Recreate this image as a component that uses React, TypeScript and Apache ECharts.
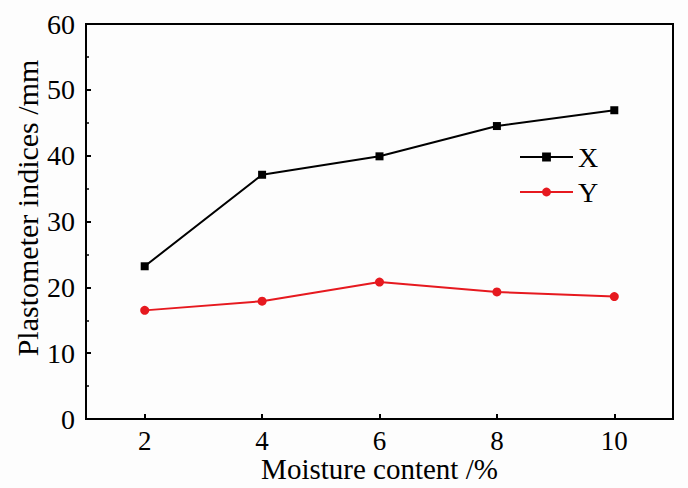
import React, { useEffect, useRef } from "react";
import * as echarts from "echarts";

const moisture = [2, 4, 6, 8, 10];
const seriesX = [23.2, 37.1, 39.9, 44.5, 46.9];
const seriesY = [16.5, 17.9, 20.8, 19.3, 18.6];
const xTicks = [2, 4, 6, 8, 10];

const FONT = "'Liberation Serif', 'Times New Roman', serif";

export default function App() {
  const ref = useRef<HTMLDivElement>(null);
  useEffect(() => {
    if (!ref.current) return;
    const chart = echarts.init(ref.current, null, { renderer: "svg" });
    chart.setOption({
      animation: false,
      backgroundColor: "#fdfdfd",
      grid: {
        left: 86,
        right: 15,
        top: 24,
        bottom: 69,
        outerBoundsMode: "none",
        containLabel: false,
        show: true,
        borderColor: "#000",
        borderWidth: 2,
        backgroundColor: "transparent",
      },
      legend: {
        orient: "vertical",
        left: 519,
        top: 143,
        padding: 0,
        itemWidth: 53,
        itemHeight: 11,
        itemGap: 7,
        textStyle: { fontFamily: FONT, fontSize: 28, color: "#000" },
        data: ["X", "Y"],
      },
      xAxis: {
        type: "value",
        min: 1,
        max: 11,
        name: "Moisture content /%",
        nameLocation: "middle",
        nameGap: 39,
        nameMoveOverlap: false,
        nameTextStyle: {
          fontFamily: FONT,
          fontSize: 29,
          lineHeight: 22,
          color: "#000",
        },
        axisLine: { show: true, lineStyle: { color: "#000", width: 2 } },
        axisTick: {
          show: true,
          inside: true,
          length: 5,
          lineStyle: { color: "#000", width: 2 },
          customValues: xTicks,
        },
        axisLabel: {
          fontFamily: FONT,
          fontSize: 27,
          lineHeight: 20,
          color: "#000",
          margin: 12,
          customValues: xTicks,
        },
        splitLine: { show: false },
      },
      yAxis: {
        type: "value",
        min: 0,
        max: 60,
        interval: 10,
        name: "Plastometer indices /mm",
        nameLocation: "middle",
        nameGap: 44,
        nameMoveOverlap: false,
        nameTextStyle: {
          fontFamily: FONT,
          fontSize: 30,
          color: "#000",
          padding: [0, 0, 0, 27],
        },
        axisLine: { show: true, lineStyle: { color: "#000", width: 2 } },
        axisTick: {
          show: true,
          inside: true,
          length: 5,
          lineStyle: { color: "#000", width: 2 },
        },
        minorTick: {
          show: true,
          splitNumber: 2,
          length: 3,
          lineStyle: { color: "#000", width: 1.5 },
        },
        axisLabel: { fontFamily: FONT, fontSize: 28, color: "#000", margin: 11 },
        splitLine: { show: false },
      },
      series: [
        {
          name: "X",
          type: "line",
          data: moisture.map((m, i) => [m, seriesX[i]]),
          symbol: "rect",
          symbolSize: 8,
          lineStyle: { color: "#000", width: 2 },
          itemStyle: { color: "#000" },
        },
        {
          name: "Y",
          type: "line",
          data: moisture.map((m, i) => [m, seriesY[i]]),
          symbol: "circle",
          symbolSize: 9,
          lineStyle: { color: "#e6191f", width: 2 },
          itemStyle: { color: "#e6191f" },
        },
      ],
    });
    return () => chart.dispose();
  }, []);
  return (
    <div
      ref={ref}
      style={{ position: "fixed", left: 0, top: 0, width: 688, height: 488 }}
    />
  );
}
